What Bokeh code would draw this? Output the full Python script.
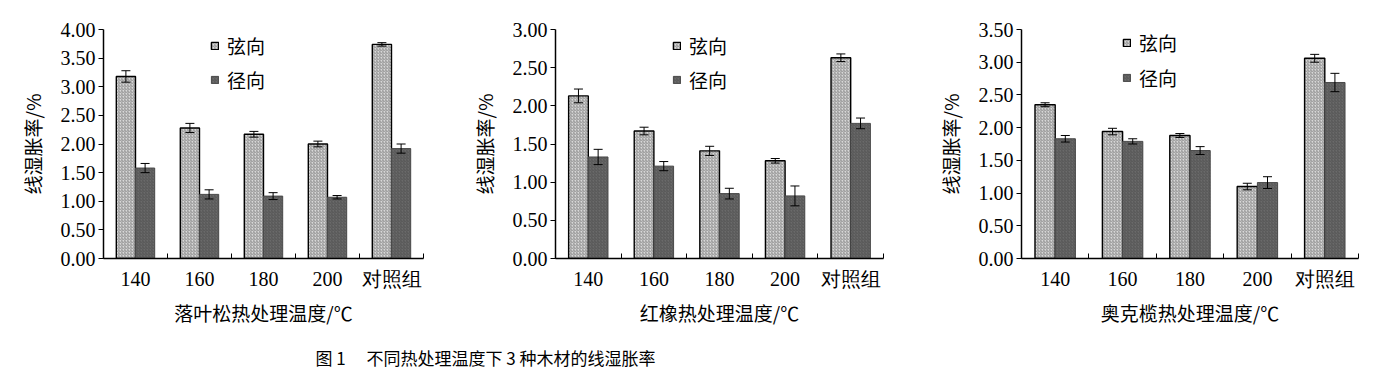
import numpy as np
from bokeh.plotting import figure
from bokeh.layouts import column, row
from bokeh.models import (ColumnDataSource, Whisker, TeeHead, FixedTicker, Legend,
                          LegendItem, Range1d, NumeralTickFormatter)
from bokeh.core.properties import value
from bokeh.embed import file_html
from bokeh.resources import INLINE

categories = ["140", "160", "180", "200", "对照组"]
series = ["弦向", "径向"]
y_title = "线湿胀率/%"
caption = "图 1\u3000 不同热处理温度下 3 种木材的线湿胀率"

larch_title = "落叶松热处理温度/℃"
larch_tan = [3.18, 2.28, 2.17, 2.00, 3.74]
larch_tan_err = [0.10, 0.08, 0.05, 0.05, 0.03]
larch_rad = [1.58, 1.12, 1.09, 1.07, 1.92]
larch_rad_err = [0.08, 0.08, 0.06, 0.03, 0.08]

redoak_title = "红橡热处理温度/℃"
redoak_tan = [2.13, 1.67, 1.41, 1.28, 2.63]
redoak_tan_err = [0.09, 0.05, 0.06, 0.03, 0.05]
redoak_rad = [1.33, 1.21, 0.85, 0.82, 1.77]
redoak_rad_err = [0.10, 0.06, 0.07, 0.13, 0.07]

okoume_title = "奥克榄热处理温度/℃"
okoume_tan = [2.35, 1.94, 1.88, 1.10, 3.06]
okoume_tan_err = [0.03, 0.05, 0.03, 0.05, 0.06]
okoume_rad = [1.83, 1.79, 1.65, 1.16, 2.69]
okoume_rad_err = [0.05, 0.04, 0.06, 0.09, 0.14]

y_max = [4.0, 3.0, 3.5]

SERIF = "Liberation Serif"
CJK = "Noto Sans CJK SC"


def make_panel(xtitle, tan, tan_err, rad, rad_err, ymax, width, bl, br, bt, leg_loc, leg_sp):
    p = figure(width=width, height=330, output_backend="svg", toolbar_location=None,
               x_range=Range1d(-0.5, 4.5), y_range=Range1d(0, ymax),
               min_border_left=bl, min_border_right=br, min_border_top=bt,
               min_border_bottom=72)
    p.outline_line_color = None
    p.grid.visible = False
    p.background_fill_color = "white"

    idx = np.arange(len(categories))
    bw = 0.3
    src_t = ColumnDataSource(dict(x=idx - bw / 2, top=tan,
                                  upper=np.array(tan) + np.array(tan_err),
                                  lower=np.array(tan) - np.array(tan_err)))
    src_r = ColumnDataSource(dict(x=idx + bw / 2, top=rad,
                                  upper=np.array(rad) + np.array(rad_err),
                                  lower=np.array(rad) - np.array(rad_err)))
    rt = p.vbar(x="x", top="top", width=bw, source=src_t,
                fill_color="#d8d8d8", line_color="black", line_width=1.4,
                hatch_pattern="/", hatch_color="#808080", hatch_scale=3,
                hatch_weight=0.8)
    rr = p.vbar(x="x", top="top", width=bw, source=src_r,
                fill_color="#6a6a6a", line_color="#4a4a4a", line_width=1,
                hatch_pattern="/", hatch_color="#505050", hatch_scale=3,
                hatch_weight=0.8)
    for s in (src_t, src_r):
        w = Whisker(source=s, base="x", upper="upper", lower="lower",
                    line_color="black", line_width=1, level="overlay",
                    upper_head=TeeHead(size=9, line_color="black", line_width=1),
                    lower_head=TeeHead(size=9, line_color="black", line_width=1))
        p.add_layout(w)

    # x axis
    xa = p.xaxis[0]
    xa.ticker = FixedTicker(ticks=list(idx), minor_ticks=list(np.arange(-0.5, 5, 1.0)))
    xa.major_label_overrides = {int(i): c for i, c in zip(idx, categories)}
    xa.major_tick_in = 0
    xa.major_tick_out = 0
    xa.minor_tick_in = 5
    xa.minor_tick_out = 0
    xa.minor_tick_line_color = "black"
    xa.axis_line_color = "black"
    xa.axis_line_width = 1.5
    xa.major_label_text_font = SERIF
    xa.major_label_text_font_size = "20px"
    xa.major_label_text_color = "black"
    xa.major_label_standoff = 9
    xa.axis_label = xtitle
    xa.axis_label_text_font = CJK
    xa.axis_label_text_font_size = "19px"
    xa.axis_label_text_font_style = "normal"
    xa.axis_label_text_color = "black"
    xa.axis_label_standoff = 6

    # y axis
    ya = p.yaxis[0]
    ya.ticker = FixedTicker(ticks=list(np.arange(0, ymax + 0.01, 0.5)))
    ya.formatter = NumeralTickFormatter(format="0.00")
    ya.major_tick_in = 0
    ya.major_tick_out = 5
    ya.minor_tick_in = 0
    ya.minor_tick_out = 0
    ya.major_tick_line_color = "black"
    ya.axis_line_color = "black"
    ya.axis_line_width = 1.5
    ya.major_label_text_font = SERIF
    ya.major_label_text_font_size = "20px"
    ya.major_label_text_color = "black"
    ya.major_label_standoff = 3
    ya.axis_label = y_title
    ya.axis_label_text_font = CJK
    ya.axis_label_text_font_size = "19px"
    ya.axis_label_text_font_style = "normal"
    ya.axis_label_text_color = "black"
    ya.axis_label_standoff = 12

    legend = Legend(items=[LegendItem(label=series[0], renderers=[rt]),
                           LegendItem(label=series[1], renderers=[rr])],
                    location=leg_loc, border_line_color=None,
                    background_fill_alpha=0, padding=0, margin=0,
                    glyph_width=9, glyph_height=9, label_standoff=8,
                    spacing=leg_sp, label_height=28,
                    label_text_font=CJK, label_text_font_size="19px",
                    label_text_color="black")
    p.add_layout(legend)
    return p


f1 = make_panel(larch_title, larch_tan, larch_tan_err, larch_rad, larch_rad_err,
                y_max[0], 458, 103, 35, 20, (107, 165), 6)
f2 = make_panel(redoak_title, redoak_tan, redoak_tan_err, redoak_rad, redoak_rad_err,
                y_max[1], 458, 97, 33, 29, (117, 165), 6)
f3 = make_panel(okoume_title, okoume_tan, okoume_tan_err, okoume_rad, okoume_rad_err,
                y_max[2], 459, 105, 17, 20, (101, 167), 7)

cap = figure(width=1375, height=47, output_backend="svg", toolbar_location=None,
             x_range=Range1d(0, 1375), y_range=Range1d(0, 47), min_border=0)
cap.axis.visible = False
cap.grid.visible = False
cap.outline_line_color = None
cap.text(x=[485], y=[20], text=[caption], text_align="center",
         text_baseline="middle", text_font=value(CJK), text_font_size="17px",
         text_color="black")

layout = column(row(f1, f2, f3), cap)
open("out.html", "w").write(file_html(layout, INLINE))
